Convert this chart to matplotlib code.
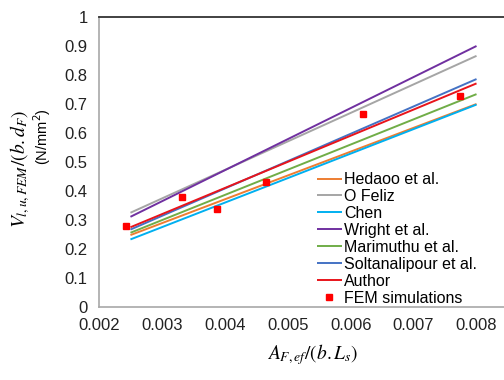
import numpy as np
import matplotlib
matplotlib.use("Agg")
import matplotlib.pyplot as plt

plt.rcParams['font.family'] = ['Liberation Sans', 'DejaVu Sans']
plt.rcParams['mathtext.fontset'] = 'stix'

# data
x_line = [0.0025, 0.008]
models = ["Hedaoo et al.", "O Feliz", "Chen", "Wright et al.",
          "Marimuthu et al.", "Soltanalipour et al.", "Author"]
model_start = [0.248, 0.325, 0.233, 0.311, 0.256, 0.267, 0.275]
model_end = [0.700, 0.866, 0.698, 0.900, 0.734, 0.786, 0.771]
colors = ["#ED7D31", "#A5A5A5", "#00B0F0", "#7030A0", "#70AD47", "#4472C4", "#E8141B"]

fem_x = [0.00243, 0.00332, 0.00388, 0.00465, 0.00619, 0.00774]
fem_y = [0.279, 0.378, 0.337, 0.432, 0.666, 0.727]

x_ticks = [0.002, 0.003, 0.004, 0.005, 0.006, 0.007, 0.008]
y_ticks = [0, 0.1, 0.2, 0.3, 0.4, 0.5, 0.6, 0.7, 0.8, 0.9, 1]

fig = plt.figure(figsize=(5.04, 3.8), dpi=100)
ax = fig.add_axes([0.1964, 0.1921, 0.8115, 0.7632])

for name, y0, y1, c in zip(models, model_start, model_end, colors):
    ax.plot(x_line, [y0, y1], color=c, lw=1.4, label=name, solid_capstyle='butt')
ax.plot(fem_x, fem_y, 's', color='#FF0000', ms=5, lw=0, label="FEM simulations")

ax.set_xlim(0.002, 0.0085)
ax.set_ylim(0, 1)
ax.set_xticks(x_ticks)
ax.set_xticklabels(["%.3f" % v for v in x_ticks])
ax.set_yticks(y_ticks)
ax.set_yticklabels(["0"] + ["%.1f" % v for v in y_ticks[1:-1]] + ["1"])
ax.tick_params(length=0, labelsize=12, colors='#222222', pad=8)

for s in ['left', 'bottom']:
    ax.spines[s].set_color('#A8A8A8')
    ax.spines[s].set_linewidth(1.2)
ax.spines['top'].set_color('#333333')
ax.spines['top'].set_linewidth(1.3)
ax.spines['right'].set_visible(False)

fig.text(0.04, 0.555, r"$V_{l,u,FEM}/(b.d_F)$", rotation=90, ha='center', va='center', fontsize=14)
fig.text(0.083, 0.64, r"(N/mm$^2$)", rotation=90, ha='center', va='center', fontsize=10.5,
         math_fontfamily='dejavusans')
fig.text(0.62, 0.068, r"$A_{F,ef}/(b.L_s)$", ha='center', va='center', fontsize=14)

ax.legend(loc='lower left', bbox_to_anchor=(0.628, 0.196), bbox_transform=fig.transFigure,
          frameon=False, fontsize=11.5, handlelength=1.6, handletextpad=0.15,
          labelspacing=0.12, borderpad=0, borderaxespad=0)

fig.savefig("out.png", dpi=100)
